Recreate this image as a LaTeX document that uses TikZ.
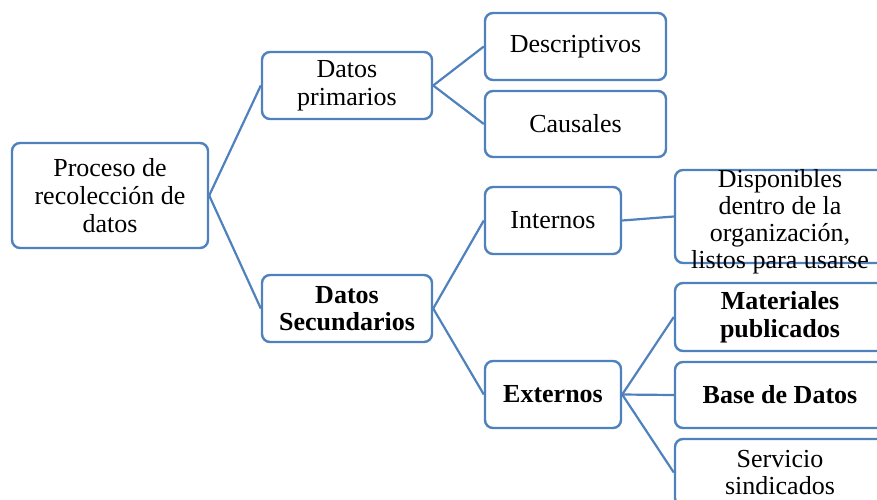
\documentclass[tikz,border=0pt]{standalone}
\usepackage{fontspec}
\setmainfont{Liberation Serif}
\definecolor{boxblue}{RGB}{79,129,189}
\tikzset{
  box/.style={draw=boxblue, line width=1.2pt, rounded corners=4pt, fill=white, align=center, inner sep=0pt, font=\fontsize{13}{13.8}\selectfont},
  link/.style={draw=boxblue, line width=1.1pt}
}

\begin{document}
\begin{tikzpicture}[x=0.5pt,y=-0.5pt]
\useasboundingbox (0,0) rectangle (877,499);
\clip (0,0) rectangle (877,499);

\node[box, minimum width=98pt, minimum height=52.5pt] (root) at (110,195.5) {Proceso de\\recolección de\\datos};

\node[box, minimum width=85pt, minimum height=33.5pt] (prim) at (347,85.5) {Datos\\primarios};
\node[box, minimum width=85pt, minimum height=33.5pt, font=\fontsize{13}{13.8}\selectfont\bfseries] (secu) at (347,308.5) {Datos\\Secundarios};

\node[box, minimum width=90.5pt, minimum height=33.5pt] (desc) at (575.5,46.5) {Descriptivos};
\node[box, minimum width=90.5pt, minimum height=33pt] (caus) at (575.5,124) {Causales};

\node[box, minimum width=68pt, minimum height=33.5pt] (inte) at (553,220.5) {Internos};
\node[box, minimum width=68pt, minimum height=33.5pt, font=\fontsize{13}{13.8}\selectfont\bfseries] (exte) at (553,394.5) {Externos};

\node[box, minimum width=105pt, minimum height=46.5pt] (disp) at (780,216.5) {};
\node[align=center, inner sep=0pt, font=\fontsize{13}{13.5}\selectfont] (disptext) at (780,222) {Disponibles\\dentro de la\\organización,\\listos para usarse};
\node[box, minimum width=105pt, minimum height=34pt, font=\fontsize{13}{13.8}\selectfont\bfseries] (mate) at (780,317) {Materiales\\publicados};
\node[box, minimum width=105pt, minimum height=33pt, font=\fontsize{13}{13.8}\selectfont\bfseries] (base) at (780,395) {Base de Datos};
\node[box, minimum width=105pt, minimum height=33.5pt] (serv) at (780,472.5) {Servicio\\sindicados};

\foreach \a/\b in {root/prim, root/secu, prim/desc, prim/caus, secu/inte, secu/exte, inte/disp, exte/mate, exte/base, exte/serv} {
\draw[link] (\a.east) -- (\b.west);
}

\end{tikzpicture}
\end{document}
